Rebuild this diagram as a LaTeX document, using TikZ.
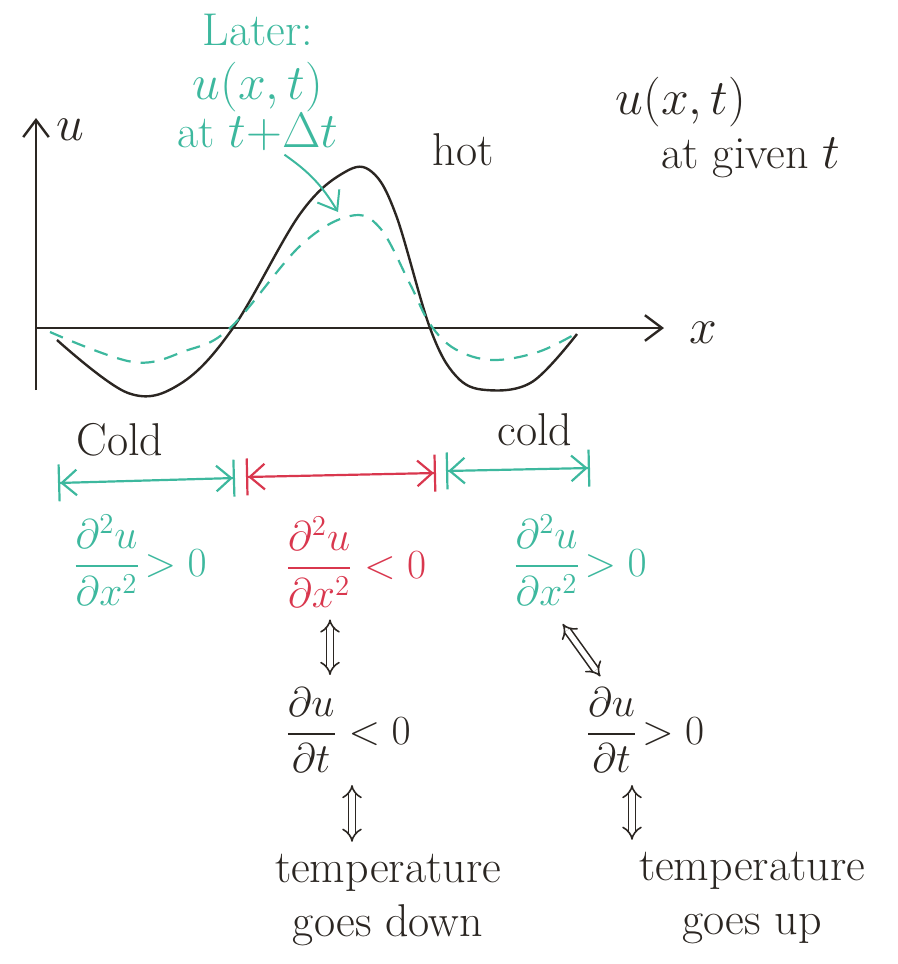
\documentclass[tikz,border=0pt]{standalone}
\usepackage{amsmath,amssymb}
\usepackage{tikz}
\usetikzlibrary{arrows.meta,positioning}
\definecolor{ink}{HTML}{2B2622}
\definecolor{teal}{HTML}{3DB89E}
\definecolor{rose}{HTML}{D9374E}
\tikzset{
  hand/.style={inner sep=2pt,align=center,text=ink,font=\fontsize{23}{24}\selectfont},
  frac/.style={inner sep=2pt,text=ink,font=\fontsize{20}{22}\selectfont},
  axis/.style={-{Straight Barb[length=3mm,width=4.5mm]},line width=1.2pt,color=ink},
  curve/.style={line width=1.2pt,color=ink,smooth,tension=0.6},
  later/.style={line width=1.1pt,color=teal,smooth,tension=0.6,dash pattern=on 7pt off 5pt},
  span/.style={{Bar[width=6.5mm]Straight Barb[length=2.6mm,width=4.5mm]}-{Straight Barb[length=2.6mm,width=4.5mm]Bar[width=6.5mm]},line width=1.1pt},
  equiv/.style={{Implies}-{Implies},double,double distance=2.6pt,thick,color=ink,shorten <=4pt,shorten >=4pt}
}
\begin{document}
\begin{tikzpicture}[x=0.5pt,y=-0.5pt]
  \useasboundingbox (0,0) rectangle (898,964);
  % axes
  \coordinate (orig) at (36,328);
  \coordinate (ybot) at (36,390);
  \coordinate (ytop) at (36,118);
  \coordinate (xend) at (664,328);
  \draw[axis] (ybot) -- (ytop);
  \draw[axis] (orig) -- (xend);
  \node[hand] (ulab) at (70,130) {$u$};
  \node[hand] (xlab) at (703,333) {$x$};

  % u(x,t) now and a little later
  \draw[curve] plot coordinates {(57,340) (128,393) (180,384) (233,328)
    (300,214) (345,172) (372,172) (396,215) (430,328)
    (456,376) (486,390) (532,382) (577,334)};
  \draw[later] plot coordinates {(50,332) (133,362) (185,351) (230,328)
    (300,246) (350,216) (380,228) (410,284) (430,324)
    (455,349) (492,360) (538,352) (577,333)};

  % labels round the plot
  \node[hand,text=teal] (laterlab) at (258,82) {Later:\\[3pt]$u(x,t)$\\at $t{+}\Delta t$};
  \coordinate (peak2) at (338,212);
  \draw[axis,color=teal,line width=1pt] (laterlab.290) to[bend left=12] (peak2);
  \node[hand] (hot) at (463,150) {hot};
  \node[hand,align=left] (given) at (728,128) {$u(x,t)$\\[3pt]\quad at given $t$};

  % regions along x
  \node[hand] (cold1) at (120,440) {Cold};
  \node[hand] (cold2) at (535,430) {cold};
  \coordinate (s1) at (58,483);
  \coordinate (s2) at (235,478);
  \coordinate (s3) at (246,477);
  \coordinate (s4) at (436,473);
  \coordinate (s5) at (446,471);
  \coordinate (s6) at (590,468);
  \draw[span,teal] (s1) -- (s2);
  \draw[span,rose] (s3) -- (s4);
  \draw[span,teal] (s5) -- (s6);

  % curvature and time derivative
  \node[frac,text=teal] (d2left) at (140,560) {$\dfrac{\partial^2u}{\partial x^2}\!>0$};
  \node[frac,text=rose] (d2mid) at (356,562) {$\dfrac{\partial^2u}{\partial x^2}<0$};
  \node[frac,text=teal] (d2right) at (580,560) {$\dfrac{\partial^2u}{\partial x^2}\!>0$};
  \node[frac] (dtleft) at (348,730) {$\dfrac{\partial u}{\partial t}<0$};
  \node[frac] (dtright) at (645,730) {$\dfrac{\partial u}{\partial t}\!>0$};
  \node[hand] (tdown) at (388,900) {temperature\\[3pt]goes down};
  \node[hand] (tup) at (752,898) {temperature\\[3pt]goes up};

  \draw[equiv] ([shift={(-26,0)}]d2mid.south) -- ([shift={(-18,0)}]dtleft.north);
  \draw[equiv] ([shift={(-22,8)}]d2right.south) -- ([shift={(-40,0)}]dtright.north);
  \draw[equiv] ([shift={(4,0)}]dtleft.south) -- ([shift={(-36,0)}]tdown.north);
  \draw[equiv] ([shift={(-13,0)}]dtright.south) -- ([shift={(-120,0)}]tup.north);
\end{tikzpicture}
\end{document}
